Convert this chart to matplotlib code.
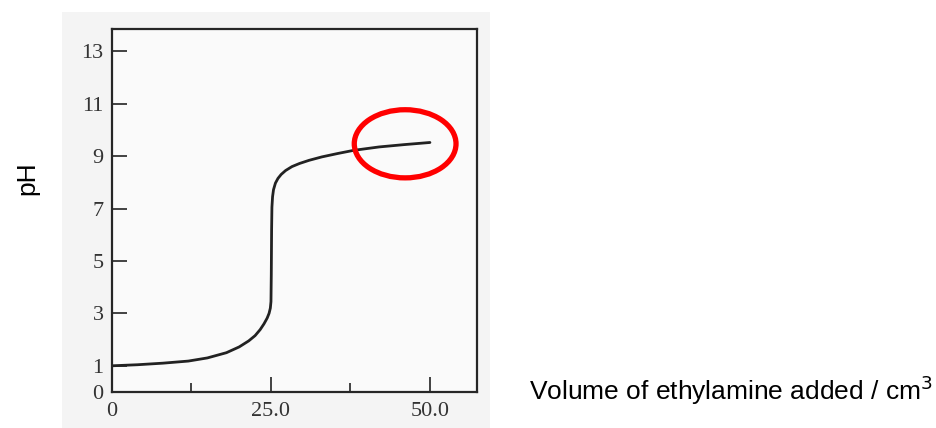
import matplotlib.pyplot as plt
from matplotlib.patches import Ellipse

# titration curve
volume = [0, 4, 8, 12, 15, 18, 20, 21.5, 22.5, 23.3, 23.9, 24.4, 24.7, 24.9, 25.0,
          25.05, 25.1, 25.15, 25.25, 25.4, 25.7, 26.1, 26.6, 27.3, 28.3, 29.5,
          31, 33, 35.5, 38, 42, 46, 50]
ph = [1.00, 1.04, 1.10, 1.18, 1.30, 1.50, 1.72, 1.95, 2.15, 2.38, 2.60, 2.82, 3.00,
      3.20, 3.45, 4.50, 6.20, 7.05, 7.45, 7.72, 7.97, 8.15, 8.30, 8.45, 8.60, 8.72,
      8.84, 8.97, 9.10, 9.22, 9.35, 9.44, 9.52]

x_major = [0, 25.0, 50.0]
x_major_labels = ["0", "25.0", "50.0"]
x_minor = [12.5, 37.5]
y_ticks = [0, 1, 3, 5, 7, 9, 11, 13]

fig = plt.figure(figsize=(9.37, 4.28), dpi=100)

# greyish scanned page behind the graph
bg = fig.add_axes([62 / 937, 0, 428 / 937, 416 / 428], zorder=0)
bg.set_facecolor("#f4f4f4")
bg.set_xticks([])
bg.set_yticks([])
for s in bg.spines.values():
    s.set_visible(False)

ax = fig.add_axes([112 / 937, 36 / 428, 365 / 937, 363 / 428], zorder=2)
ax.set_facecolor("#fafafa")
ax.plot(volume, ph, color="#222222", lw=2.0, solid_capstyle="round",
        solid_joinstyle="round")

ax.set_xlim(0, 57.4)
ax.set_ylim(0, 13.85)
for s in ax.spines.values():
    s.set_color("#262626")
    s.set_linewidth(1.6)

ax.set_xticks(x_major)
ax.set_xticklabels(x_major_labels)
ax.set_xticks(x_minor, minor=True)
ax.set_yticks(y_ticks)
ax.set_yticklabels([str(v) for v in y_ticks])

for lab in ax.get_xticklabels() + ax.get_yticklabels():
    lab.set_fontfamily("Liberation Serif")
    lab.set_fontsize(16)
    lab.set_color("#333333")
ax.tick_params(axis="x", which="major", direction="in", length=11, width=1.3,
               color="#333333", pad=7)
ax.tick_params(axis="x", which="minor", direction="in", length=6.5, width=1.3,
               color="#333333")
ax.tick_params(axis="y", direction="in", length=11, width=1.3, color="#333333", pad=6)

# circle round the end of the curve
ax.add_patch(Ellipse((46.1, 9.47), 16.0, 2.6, fill=False, edgecolor="#ff0000",
                     lw=3.8, clip_on=False, zorder=5))

fig.text(27 / 937, 1 - 178 / 428, "pH", rotation=90, ha="center", va="center",
         family="Liberation Sans", fontsize=19, zorder=3)
fig.text(529 / 937, 1 - 390 / 428, "Volume of ethylamine added / cm$^3$",
         ha="left", va="center", family="Liberation Sans", fontsize=19, zorder=3)

fig.savefig("out.png", dpi=100)
